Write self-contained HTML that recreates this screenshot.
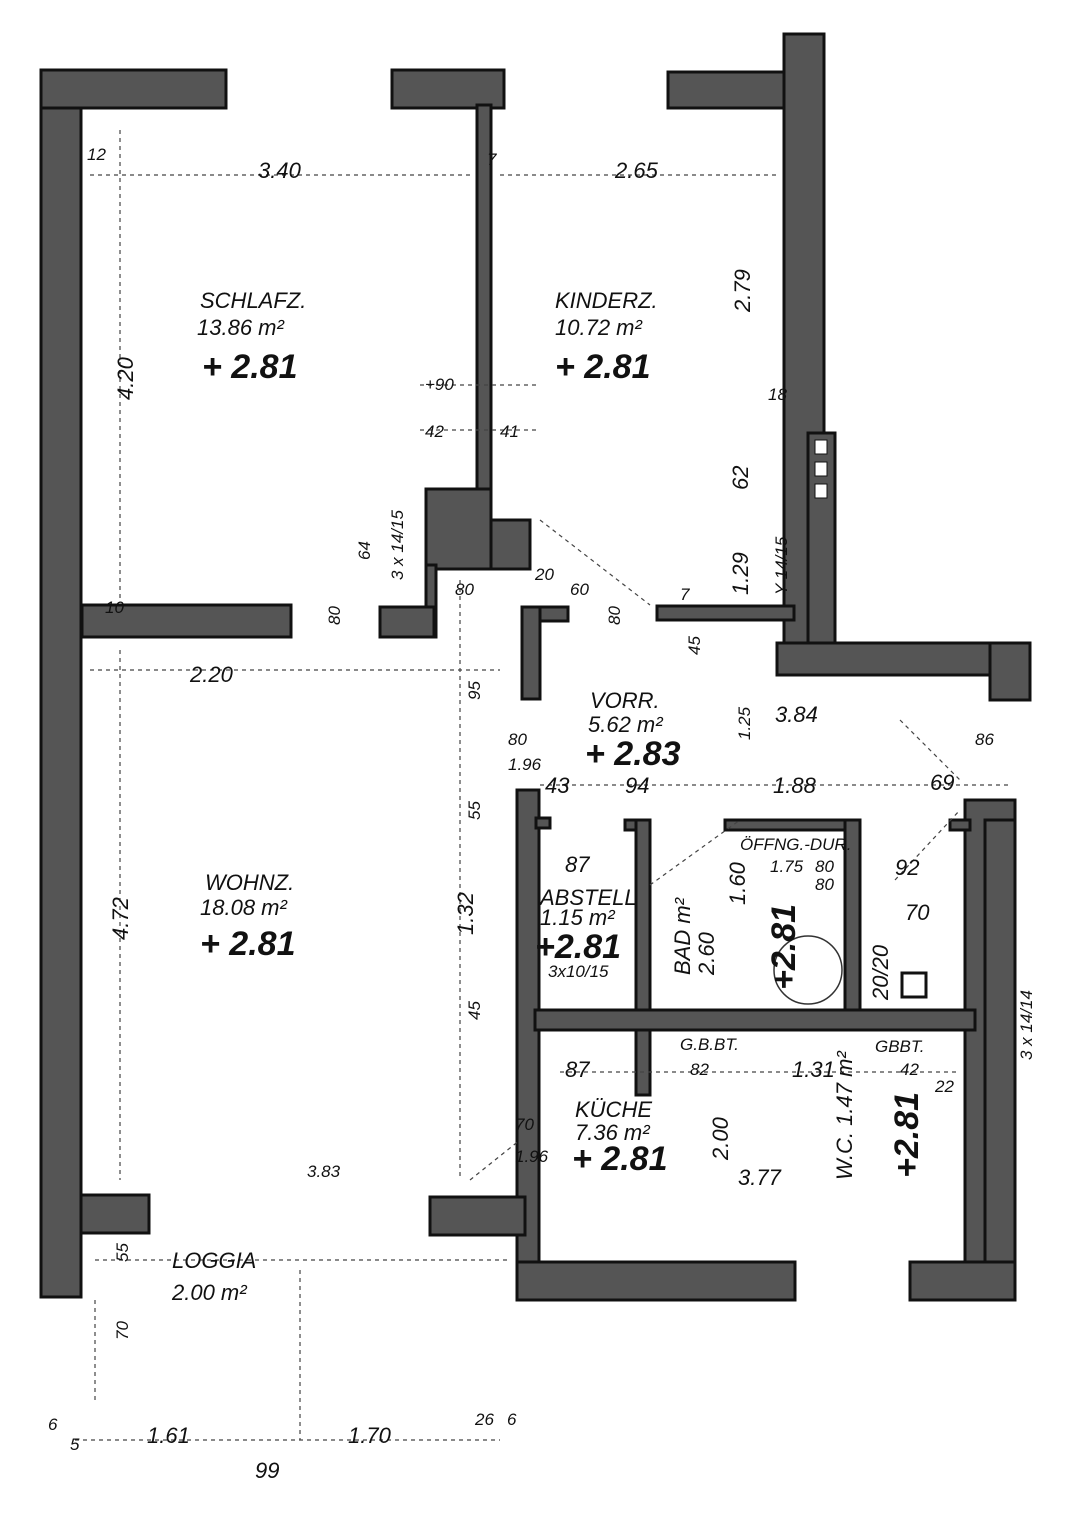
<!DOCTYPE html>
<html><head><meta charset="utf-8"><style>
html,body{margin:0;padding:0;background:#fff}
svg{display:block}
text{font-family:"Liberation Sans",sans-serif;font-style:italic;fill:#111}
.w{fill:#555;stroke:#111;stroke-width:3}
.d{stroke:#444;stroke-width:1.2;stroke-dasharray:4 4;fill:none}
.s{font-size:17px}
.r{font-size:22px}
.b{font-size:34px;font-weight:bold}
</style></head><body>
<svg width="1073" height="1522" viewBox="0 0 1073 1522" xmlns="http://www.w3.org/2000/svg">
<rect class="w" x="41" y="70" width="40" height="1227"/>
<rect class="w" x="41" y="70" width="185" height="38"/>
<rect class="w" x="392" y="70" width="112" height="38"/>
<rect class="w" x="668" y="72" width="122" height="36"/>
<rect class="w" x="784" y="34" width="40" height="612"/>
<rect class="w" x="808" y="433" width="27" height="210"/>
<rect class="w" x="477" y="105" width="14" height="386"/>
<rect class="w" x="426" y="489" width="65" height="80"/>
<rect class="w" x="491" y="520" width="39" height="49"/>
<rect class="w" x="426" y="565" width="10" height="72"/>
<rect class="w" x="380" y="607" width="54" height="30"/>
<rect class="w" x="82" y="605" width="209" height="32"/>
<rect class="w" x="524" y="607" width="44" height="14"/>
<rect class="w" x="522" y="607" width="18" height="92"/>
<rect class="w" x="657" y="606" width="137" height="14"/>
<rect class="w" x="777" y="643" width="253" height="32"/>
<rect class="w" x="990" y="643" width="40" height="57"/>
<rect class="w" x="965" y="800" width="50" height="500"/>
<rect class="w" x="985" y="820" width="30" height="470"/>
<rect class="w" x="517" y="790" width="22" height="510"/>
<rect class="w" x="536" y="818" width="14" height="10"/>
<rect class="w" x="625" y="820" width="25" height="10"/>
<rect class="w" x="636" y="820" width="14" height="275"/>
<rect class="w" x="725" y="820" width="135" height="10"/>
<rect class="w" x="845" y="820" width="15" height="200"/>
<rect class="w" x="950" y="820" width="20" height="10"/>
<rect class="w" x="535" y="1010" width="440" height="20"/>
<rect class="w" x="517" y="1262" width="278" height="38"/>
<rect class="w" x="910" y="1262" width="105" height="38"/>
<rect class="w" x="81" y="1195" width="68" height="38"/>
<rect class="w" x="430" y="1197" width="95" height="38"/>
<g fill="#fff" stroke="#111"><rect x="815" y="440" width="12" height="14"/><rect x="815" y="462" width="12" height="14"/><rect x="815" y="484" width="12" height="14"/></g>
<circle cx="808" cy="970" r="34" fill="none" stroke="#333" stroke-width="1.5"/>
<rect x="902" y="973" width="24" height="24" fill="none" stroke="#111" stroke-width="3"/>
<path class="d" d="M90 175H470M500 175H780M120 130V600M120 650V1180M460 580V1180M90 670H500M540 785H1010M560 1072H960M420 385H540M420 430H540M95 1260H510M95 1300V1400M300 1270V1440M75 1440H500M540 520L650 605M900 720L960 780M470 1180L520 1140M895 880L960 810M650 885L740 820"/>
<text class="s" x="87" y="160">12</text>
<text class="r" x="258" y="178">3.40</text>
<text class="s" x="487" y="165">7</text>
<text class="r" x="615" y="178">2.65</text>
<text class="r" transform="translate(750,312) rotate(-90)">2.79</text>
<text class="r" x="200" y="308">SCHLAFZ.</text>
<text class="r" x="197" y="335">13.86 m²</text>
<text class="b" x="202" y="378">+ 2.81</text>
<text class="r" x="555" y="308">KINDERZ.</text>
<text class="r" x="555" y="335">10.72 m²</text>
<text class="b" x="555" y="378">+ 2.81</text>
<text class="r" transform="translate(133,400) rotate(-90)">4.20</text>
<text class="s" x="425" y="390">+90</text>
<text class="s" x="425" y="437">42</text>
<text class="s" x="500" y="437">41</text>
<text class="s" x="768" y="400">18</text>
<text class="r" transform="translate(748,490) rotate(-90)">62</text>
<text class="r" transform="translate(748,595) rotate(-90)">1.29</text>
<text class="s" transform="translate(787,595) rotate(-90)">Y 14/15</text>
<text class="s" transform="translate(403,580) rotate(-90)">3 x 14/15</text>
<text class="s" transform="translate(370,560) rotate(-90)">64</text>
<text class="s" x="455" y="595">80</text>
<text class="s" x="535" y="580">20</text>
<text class="s" x="570" y="595">60</text>
<text class="s" transform="translate(620,625) rotate(-90)">80</text>
<text class="s" x="680" y="600">7</text>
<text class="s" transform="translate(340,625) rotate(-90)">80</text>
<text class="s" x="105" y="613">10</text>
<text class="r" x="190" y="682">2.20</text>
<text class="s" transform="translate(480,700) rotate(-90)">95</text>
<text class="s" transform="translate(700,655) rotate(-90)">45</text>
<text class="r" x="590" y="708">VORR.</text>
<text class="r" x="588" y="732">5.62 m²</text>
<text class="b" x="585" y="765">+ 2.83</text>
<text class="r" x="775" y="722">3.84</text>
<text class="s" transform="translate(750,740) rotate(-90)">1.25</text>
<text class="s" x="508" y="745">80</text>
<text class="s" x="508" y="770">1.96</text>
<text class="s" x="975" y="745">86</text>
<text class="r" x="545" y="793">43</text>
<text class="r" x="625" y="793">94</text>
<text class="r" x="773" y="793">1.88</text>
<text class="r" x="930" y="790">69</text>
<text class="s" x="740" y="850">ÖFFNG.-DUR.</text>
<text class="s" x="770" y="872">1.75</text>
<text class="s" x="815" y="872">80</text>
<text class="s" x="815" y="890">80</text>
<text class="r" x="565" y="872">87</text>
<text class="r" x="895" y="875">92</text>
<text class="r" x="540" y="905">ABSTELL</text>
<text class="r" x="540" y="925">1.15 m²</text>
<text class="b" x="535" y="958">+2.81</text>
<text class="s" x="548" y="977">3x10/15</text>
<text class="r" transform="translate(690,975) rotate(-90)">BAD m²</text>
<text class="r" transform="translate(714,975) rotate(-90)">2.60</text>
<text class="r" transform="translate(745,905) rotate(-90)">1.60</text>
<text class="b" transform="translate(795,990) rotate(-90)">+2.81</text>
<text class="r" transform="translate(888,1000) rotate(-90)">20/20</text>
<text class="r" x="905" y="920">70</text>
<text class="r" x="205" y="890">WOHNZ.</text>
<text class="r" x="200" y="915">18.08 m²</text>
<text class="b" x="200" y="955">+ 2.81</text>
<text class="r" transform="translate(128,940) rotate(-90)">4.72</text>
<text class="r" transform="translate(473,935) rotate(-90)">1.32</text>
<text class="s" transform="translate(480,1020) rotate(-90)">45</text>
<text class="s" transform="translate(480,820) rotate(-90)">55</text>
<text class="r" x="565" y="1077">87</text>
<text class="s" x="680" y="1050">G.B.BT.</text>
<text class="s" x="690" y="1075">82</text>
<text class="r" x="792" y="1077">1.31</text>
<text class="s" x="875" y="1052">GBBT.</text>
<text class="s" x="900" y="1075">42</text>
<text class="s" x="935" y="1092">22</text>
<text class="r" x="575" y="1117">KÜCHE</text>
<text class="r" x="575" y="1140">7.36 m²</text>
<text class="b" x="572" y="1170">+ 2.81</text>
<text class="r" transform="translate(728,1160) rotate(-90)">2.00</text>
<text class="r" x="738" y="1185">3.77</text>
<text class="r" transform="translate(852,1180) rotate(-90)">W.C. 1.47 m²</text>
<text class="b" transform="translate(918,1178) rotate(-90)">+2.81</text>
<text class="s" x="515" y="1130">70</text>
<text class="s" x="515" y="1162">1.96</text>
<text class="s" x="307" y="1177">3.83</text>
<text class="s" transform="translate(1032,1060) rotate(-90)">3 x 14/14</text>
<text class="r" x="172" y="1268">LOGGIA</text>
<text class="r" x="172" y="1300">2.00 m²</text>
<text class="s" transform="translate(128,1262) rotate(-90)">55</text>
<text class="s" transform="translate(128,1340) rotate(-90)">70</text>
<text class="r" x="147" y="1443">1.61</text>
<text class="r" x="348" y="1443">1.70</text>
<text class="s" x="48" y="1430">6</text>
<text class="s" x="70" y="1450">5</text>
<text class="s" x="475" y="1425">26</text>
<text class="s" x="507" y="1425">6</text>
<text class="r" x="255" y="1478">99</text>
</svg>
</body></html>
